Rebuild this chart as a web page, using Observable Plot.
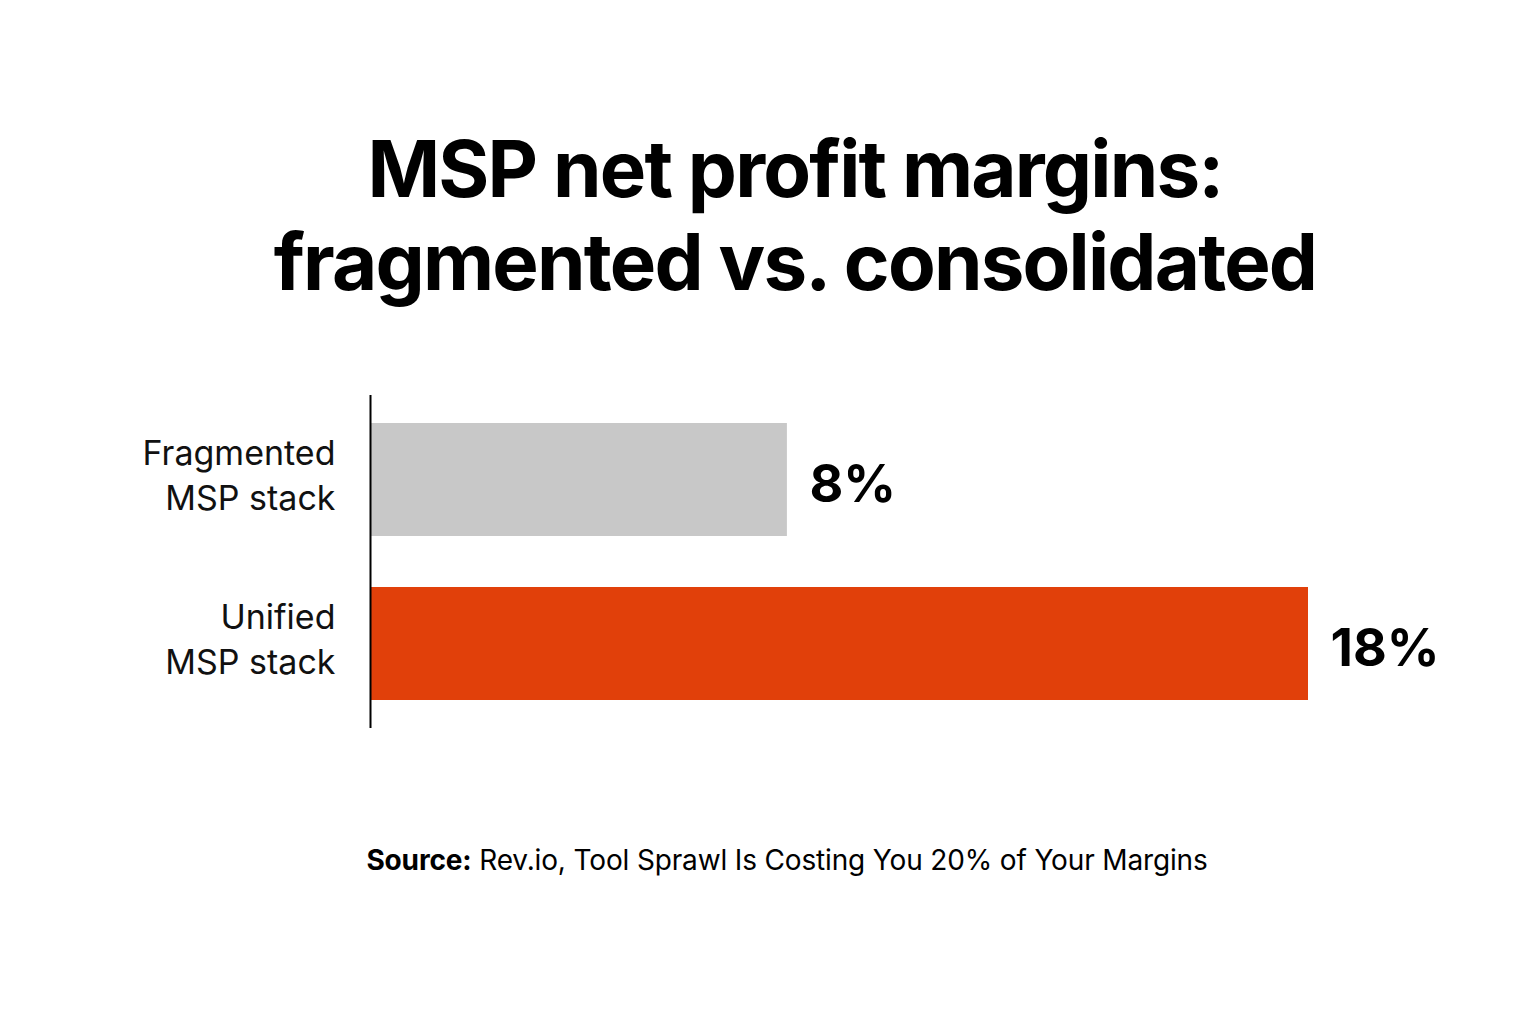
<!DOCTYPE html>
<html>
<head>
<meta charset="utf-8">
<script src="https://cdn.jsdelivr.net/npm/d3@7"></script>
<script src="https://cdn.jsdelivr.net/npm/@observablehq/plot@0.6"></script>
<style>
  html, body { margin: 0; padding: 0; background: #ffffff; }
  body { width: 1536px; height: 1024px; position: relative; overflow: hidden; font-family: Inter, "Noto Sans", sans-serif; color: #000; }
  #title { position: absolute; left: 54px; top: 122px; width: 1482px; text-align: center; font-size: 78px; line-height: 93px; font-weight: 700; letter-spacing: -1.8px; }
  #chart { position: absolute; left: 0; top: 370px; }
  #source { position: absolute; left: 46px; top: 843px; width: 1482px; text-align: center; font-size: 28px; line-height: 34px; letter-spacing: -0.15px; }
  #source b { font-weight: 700; }
</style>
</head>
<body>
<div id="title">MSP net profit margins:<br>fragmented vs. consolidated</div>
<div id="chart"></div>
<div id="source"><b>Source:</b> Rev.io, Tool Sprawl Is Costing You 20% of Your Margins</div>
<script>
const categories = ["Fragmented\nMSP stack", "Unified\nMSP stack"];
const values = [8, 18];
const valueLabels = ["8%", "18%"];
const colors = ["#c8c8c8", "#e1400a"];

const data = categories.map((c, i) => ({category: c, value: values[i], label: valueLabels[i], color: colors[i]}));

const chart = Plot.plot({
  width: 1536,
  height: 380,
  marginLeft: 370,
  marginRight: 228,
  marginTop: 25,
  marginBottom: 22,
  style: {fontFamily: "Inter, 'Noto Sans', sans-serif", background: "transparent"},
  x: {domain: [0, 18], axis: null},
  y: {domain: categories, paddingInner: 0.31, paddingOuter: 0.17, label: null},
  marks: [
    Plot.barX(data, {y: "category", x: "value", fill: "color"}),
    Plot.ruleX([0], {stroke: "#000", strokeWidth: 2}),
    Plot.axisY({tickSize: 0, tickPadding: 35, fontSize: 34, lineHeight: 1.32, dy: -7, fill: "#111", letterSpacing: -0.3}),
    Plot.text(data, {y: "category", x: "value", text: "label", dx: 22, dy: 5, textAnchor: "start", fontSize: 52, fontWeight: 700, fill: "#000", letterSpacing: -1.5})
  ]
});
document.getElementById("chart").appendChild(chart);
</script>
</body>
</html>
